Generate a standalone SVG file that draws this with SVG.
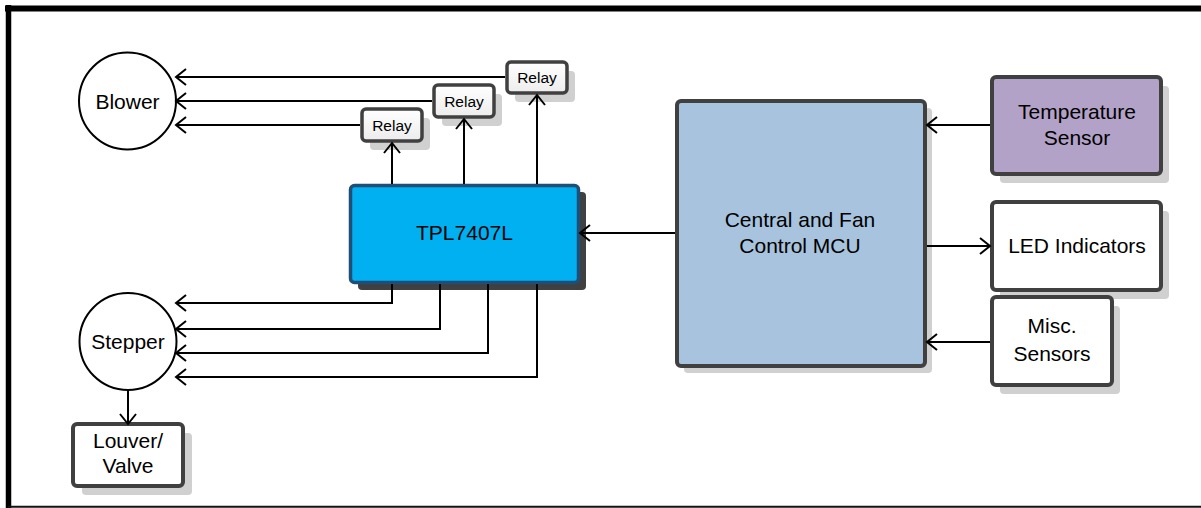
<svg xmlns="http://www.w3.org/2000/svg" width="1201" height="508" viewBox="0 0 1201 508">
<style>
.txt{font-family:"Liberation Sans",Arial,sans-serif;font-size:21px;fill:#000;text-anchor:middle}
.rel{font-family:"Liberation Sans",Arial,sans-serif;font-size:15.5px;fill:#000;text-anchor:middle}
.box{stroke:#404040;stroke-width:4}
.shadow{fill:#d0d0d0}
.conn{fill:none;stroke:#000;stroke-width:2;marker-end:url(#arr)}
.circ{fill:#fff;stroke:#000;stroke-width:2}
</style>
<defs>
<marker id="arr" markerUnits="userSpaceOnUse" markerWidth="14" markerHeight="20" viewBox="-12 -10 14 20" refX="0" refY="0" orient="auto" overflow="visible">
<path d="M-10,-8 L0,0 L-10,8" fill="none" stroke="#000" stroke-width="2"/>
</marker>
<linearGradient id="relg" x1="0" y1="0" x2="0" y2="1"><stop offset="0" stop-color="#ffffff"/><stop offset="1" stop-color="#ececec"/></linearGradient>
</defs>
<rect width="1201" height="508" fill="#fff"/>
<g id="frame">
<line x1="5" y1="8.5" x2="1201" y2="8.5" stroke="#000" stroke-width="6"/>
<line x1="8.5" y1="5" x2="8.5" y2="508" stroke="#000" stroke-width="5.5"/>
<line x1="8" y1="506.8" x2="1201" y2="506.8" stroke="#111" stroke-width="2"/>
</g>
<g id="blower">
<circle class="circ" cx="127.5" cy="101" r="48.5"/>
<text class="txt" x="127.5" y="108.5">Blower</text>
</g>
<g id="stepper">
<circle class="circ" cx="128" cy="341.5" r="48.5"/>
<text class="txt" x="128" y="348.5">Stepper</text>
</g>
<g id="louver">
<rect class="shadow" x="82" y="433" width="110" height="62" rx="4"/>
<rect class="box" x="73" y="424" width="110" height="62" rx="4" fill="#fff"/>
<text class="txt" x="128" y="448">Louver/</text>
<text class="txt" x="128" y="473">Valve</text>
</g>
<g id="relay1">
<rect class="shadow" x="515" y="71" width="60" height="31" rx="4"/>
<rect x="507" y="62" width="60" height="31" rx="4" fill="url(#relg)" stroke="#404040" stroke-width="3.5"/>
<text class="rel" x="537" y="83">Relay</text>
</g>
<g id="relay2">
<rect class="shadow" x="442" y="94" width="60" height="32" rx="4"/>
<rect x="434" y="85" width="60" height="32" rx="4" fill="url(#relg)" stroke="#404040" stroke-width="3.5"/>
<text class="rel" x="464" y="107">Relay</text>
</g>
<g id="relay3">
<rect class="shadow" x="370" y="118" width="60" height="32" rx="4"/>
<rect x="362" y="109" width="60" height="32" rx="4" fill="url(#relg)" stroke="#404040" stroke-width="3.5"/>
<text class="rel" x="392" y="131">Relay</text>
</g>
<g id="tpl7407l">
<rect x="358" y="192" width="228" height="98" rx="4" fill="#404040"/>
<rect x="350.5" y="185.5" width="228" height="97" rx="4" fill="#00B0F0" stroke="#1F4E79" stroke-width="3.5"/>
<text class="txt" x="464.5" y="240">TPL7407L</text>
</g>
<g id="mcu">
<rect class="shadow" x="684" y="108" width="248" height="265" rx="4"/>
<rect class="box" x="677" y="101" width="248" height="265" rx="4" fill="#A7C3DD"/>
<text class="txt" x="800" y="227">Central and Fan</text>
<text class="txt" x="800" y="253">Control MCU</text>
</g>
<g id="temperature-sensor">
<rect class="shadow" x="1000" y="86" width="169" height="97" rx="4"/>
<rect class="box" x="992" y="77" width="169" height="97" rx="4" fill="#B3A2C7"/>
<text class="txt" x="1077" y="119">Temperature</text>
<text class="txt" x="1077" y="145">Sensor</text>
</g>
<g id="led-indicators">
<rect class="shadow" x="1000" y="211" width="169" height="88" rx="4"/>
<rect class="box" x="992" y="202" width="169" height="88" rx="4" fill="#fff"/>
<text class="txt" x="1077" y="253">LED Indicators</text>
</g>
<g id="misc-sensors">
<rect class="shadow" x="1000" y="306" width="120" height="88" rx="4"/>
<rect class="box" x="992" y="297" width="120" height="88" rx="4" fill="#fff"/>
<text class="txt" x="1052" y="333">Misc.</text>
<text class="txt" x="1052" y="361">Sensors</text>
</g>
<g id="connectors">
<path class="conn" d="M505,77 H176"/>
<path class="conn" d="M432,101 H176"/>
<path class="conn" d="M360,125 H176"/>
<path class="conn" d="M392,184 V143"/>
<path class="conn" d="M464,184 V119"/>
<path class="conn" d="M537,184 V95"/>
<path class="conn" d="M392,284 V303 H176"/>
<path class="conn" d="M440,284 V329 H176"/>
<path class="conn" d="M488,284 V353 H176"/>
<path class="conn" d="M537,284 V377 H176"/>
<path class="conn" d="M128,390 V424"/>
<path class="conn" d="M675,233 H580"/>
<path class="conn" d="M990,125 H927"/>
<path class="conn" d="M927,246 H990"/>
<path class="conn" d="M990,342 H927"/>
</g>
</svg>
